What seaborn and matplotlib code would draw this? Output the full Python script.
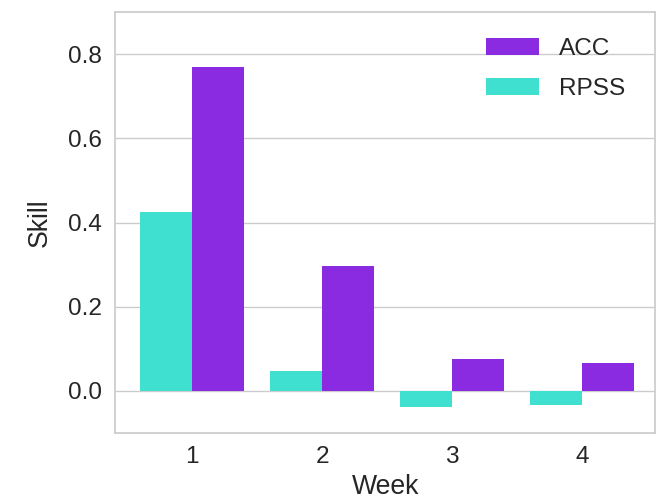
import pandas as pd
import matplotlib
matplotlib.use("Agg")
import matplotlib.pyplot as plt
import seaborn as sns

weeks = ["1", "2", "3", "4"]
acc = [0.769, 0.298, 0.075, 0.066]
rpss = [0.426, 0.048, -0.039, -0.034]

df = pd.DataFrame({
    "Week": weeks * 2,
    "Skill": rpss + acc,
    "Metric": ["RPSS"] * 4 + ["ACC"] * 4,
})

sns.set_theme(style="whitegrid", font_scale=1.6)
plt.rcParams["font.family"] = ["Liberation Sans", "DejaVu Sans"]

fig = plt.figure(figsize=(6.7, 5.03), dpi=100)
ax = fig.add_axes([0.172, 0.139, 0.806, 0.837])

sns.barplot(data=df, x="Week", y="Skill", hue="Metric",
            hue_order=["RPSS", "ACC"],
            palette={"RPSS": "turquoise", "ACC": "blueviolet"},
            saturation=1, width=0.8, linewidth=0, ax=ax)

ax.set_ylim(-0.1, 0.9)
ax.set_xlim(-0.59, 3.56)
ax.set_yticks([0.0, 0.2, 0.4, 0.6, 0.8])
ax.set_xlabel("Week", labelpad=4)
ax.set_ylabel("Skill", labelpad=11)
for s in ax.spines.values():
    s.set_color("#cccccc")

handles, labels = ax.get_legend_handles_labels()
ax.legend(handles[::-1], labels[::-1], frameon=False, loc="upper right",
          handlelength=2.2, labelspacing=0.7, bbox_to_anchor=(0.985, 0.99))

fig.savefig("out.png", dpi=100)
